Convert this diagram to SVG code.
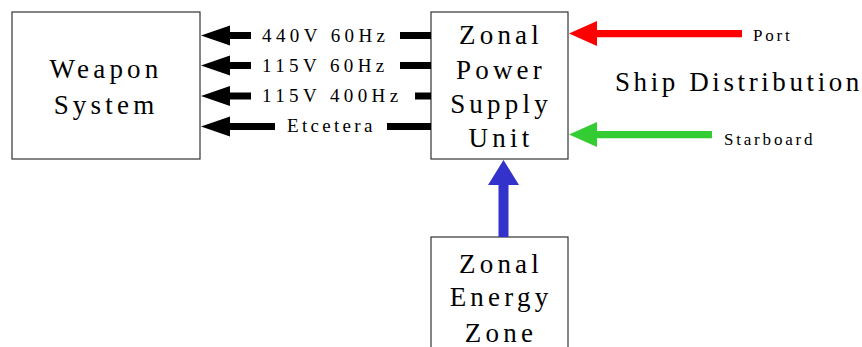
<svg xmlns="http://www.w3.org/2000/svg" width="862" height="347" viewBox="0 0 862 347">
<style>
.box{fill:#fff;stroke:#333;stroke-width:1.2}
.big{font-size:27px;letter-spacing:4.2px;text-anchor:middle;fill:#000}
.lbl{font-size:19px;letter-spacing:4.4px;fill:#000}
.sm{font-size:17px;letter-spacing:2.8px;fill:#000}
.blk{fill:#000}
</style>
<rect width="862" height="347" fill="#fff"/>
<g font-family="Liberation Serif, DejaVu Serif, Times New Roman, serif">
<g id="weapon-system">
<rect class="box" x="12" y="12" width="188" height="147"/>
<text class="big" x="106" y="78">Weapon</text>
<text class="big" x="106" y="114">System</text>
</g>
<g id="zonal-power-supply-unit">
<rect class="box" x="431" y="12" width="137" height="147"/>
<text class="big" x="501" y="44">Zonal</text>
<text class="big" x="501" y="78.5">Power</text>
<text class="big" x="501" y="113">Supply</text>
<text class="big" x="501" y="147">Unit</text>
</g>
<g id="zonal-energy-zone">
<rect class="box" x="431" y="237" width="137" height="130"/>
<text class="big" x="501" y="273">Zonal</text>
<text class="big" x="501" y="306">Energy</text>
<text class="big" x="501" y="341.5">Zone</text>
</g>
<g id="ship-distribution">
<text x="615" y="91" font-size="27" letter-spacing="3.6" fill="#000">Ship Distribution</text>
</g>
<g id="connectors">
<g id="c-440v60">
<path class="blk" d="M201,35.5 L230,25.5 L230,32 L251,32 L251,39 L230,39 L230,45.5 Z"/>
<rect class="blk" x="400" y="32" width="31" height="7"/>
<text class="lbl" x="262" y="42">440V 60Hz</text>
</g>
<g id="c-115v60">
<path class="blk" d="M201,65.5 L230,55.5 L230,62 L251,62 L251,69 L230,69 L230,75.5 Z"/>
<rect class="blk" x="400" y="62" width="31" height="7"/>
<text class="lbl" x="262" y="72">115V 60Hz</text>
</g>
<g id="c-115v400">
<path class="blk" d="M201,96 L230,86 L230,92.5 L251,92.5 L251,99.5 L230,99.5 L230,106 Z"/>
<rect class="blk" x="415" y="92.5" width="16" height="7"/>
<text class="lbl" x="262" y="102">115V 400Hz</text>
</g>
<g id="c-etcetera">
<path class="blk" d="M201,126.5 L230,116.5 L230,123 L275,123 L275,130 L230,130 L230,136.5 Z"/>
<rect class="blk" x="387" y="123" width="44" height="7"/>
<text class="lbl" x="287" y="132" style="letter-spacing:3.3px">Etcetera</text>
</g>
<g id="c-port">
<path fill="#ff0000" d="M569,33.5 L597,21 L597,30 L742,30 L742,37.3 L597,37.3 L597,46 Z"/>
<text class="sm" x="753" y="41">Port</text>
</g>
<g id="c-starboard">
<path fill="#33cc33" d="M569,134.5 L597,122 L597,131 L712,131 L712,138.3 L597,138.3 L597,147 Z"/>
<text class="sm" x="724" y="145">Starboard</text>
</g>
<g id="c-energy">
<path fill="#3333cc" d="M503.5,160 L519,185 L508.5,185 L508.5,237 L498.5,237 L498.5,185 L488,185 Z"/>
</g>
</g>
</g>
</svg>
